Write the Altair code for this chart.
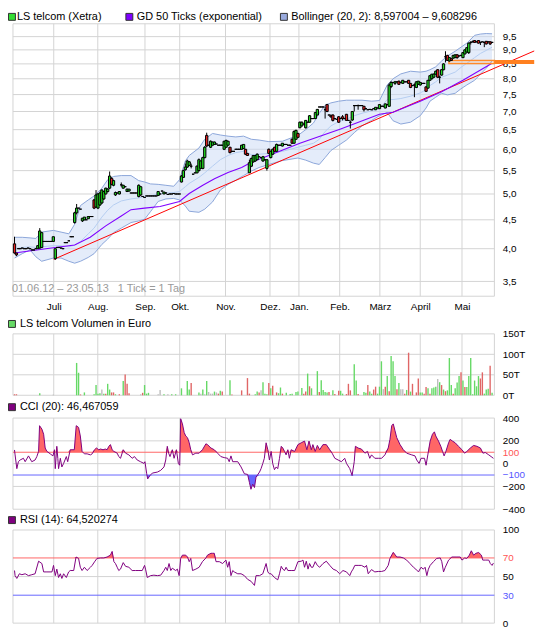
import altair as alt
import pandas as pd

FONT = "Liberation Sans"
GRID = "#d3d3d3"

# ---------------- price candles, trading-day index 0..246 ----------------
p_open = [
    4.08, 3.93, 4.00, 4.00, 4.01, 4.00, 4.00, 4.01, 4.00, 3.98,
    3.98, 4.00, 4.00, 4.01, 4.02, 4.12, 4.12, 4.12, 4.12, 4.12,
    4.12, 3.84, 4.02, 4.02, 4.01, 4.00, 4.10, 4.10, 4.13, 4.20,
    4.20, 4.45, 4.63, 4.72, 4.70, 4.48, 4.50, 4.50, 4.52, 4.56,
    4.56, 4.88, 4.74, 4.72, 4.78, 4.82, 4.90, 5.00, 5.05, 5.12,
    5.33, 5.18, 4.98, 5.02, 5.00, 5.19, 5.12, 5.15, 5.05, 5.06,
    5.02, 5.02, 5.02, 5.02, 4.95, 4.98, 4.95, 4.93, 4.96, 4.96,
    4.96, 4.96, 4.96, 4.96, 4.97, 5.00, 5.06, 5.00, 5.02, 4.99,
    5.00, 5.00, 5.01, 5.00, 5.00, 5.00, 5.25, 5.35, 5.52, 5.58,
    5.62, 5.60, 5.42, 5.45, 5.45, 5.50, 5.55, 5.55, 5.80, 6.35,
    6.10, 6.05, 6.10, 6.12, 6.13, 6.10, 6.10, 6.10, 6.00, 6.05,
    6.10, 6.05, 5.95, 5.95, 6.00, 6.00, 6.00, 6.00, 6.02, 6.00,
    5.90, 5.45, 5.60, 5.70, 5.72, 5.75, 5.82, 5.80, 5.72, 5.75,
    5.55, 6.00, 5.80, 5.88, 6.05, 5.95, 6.10, 6.10, 6.08, 6.12,
    6.12, 6.10, 6.10, 6.25, 6.15, 6.25, 6.40, 6.55, 6.60, 6.65,
    6.55, 6.70, 6.70, 6.80, 6.80, 6.80, 6.90, 7.13, 7.13, 7.13,
    7.05, 7.20, 6.90, 6.88, 6.90, 6.80, 6.78, 6.85, 6.80, 6.85,
    6.80, 6.92, 6.75, 6.70, 6.76, 7.17, 7.17, 7.17, 7.17, 7.17,
    7.15, 7.08, 7.05, 7.06, 7.05, 7.08, 7.05, 7.10, 7.08, 7.15,
    7.15, 7.10, 7.20, 7.15, 7.75, 7.88, 7.85, 7.90, 7.92, 7.88,
    7.85, 7.90, 7.90, 7.95, 7.85, 7.78, 7.80, 7.72, 7.82, 7.80,
    7.85, 7.85, 7.74, 7.70, 7.95, 8.00, 8.05, 8.15, 8.30, 8.05,
    8.12, 8.30, 8.75, 8.80, 8.60, 8.68, 8.70, 8.72, 8.82, 8.78,
    8.80, 8.72, 8.85, 8.92, 8.90, 9.28, 9.30, 9.35, 9.30, 9.35,
    9.28, 9.30, 9.28, 9.32, 9.30, 9.30, 9.28,
]
p_close = [
    3.93, 3.90, 4.00, 4.00, 4.01, 4.00, 4.00, 4.01, 4.00, 3.98,
    3.98, 4.00, 4.05, 4.30, 4.27, 4.12, 4.12, 4.12, 4.12, 4.12,
    4.20, 4.00, 4.02, 4.02, 4.01, 4.00, 4.10, 4.10, 4.13, 4.20,
    4.20, 4.63, 4.72, 4.72, 4.70, 4.53, 4.55, 4.50, 4.56, 4.56,
    4.56, 4.72, 4.98, 5.00, 5.02, 5.08, 5.05, 5.12, 5.10, 5.38,
    5.20, 5.28, 5.03, 5.02, 5.05, 5.19, 5.18, 5.15, 5.10, 5.10,
    5.02, 5.02, 5.02, 5.02, 5.18, 5.15, 4.95, 4.93, 4.96, 4.96,
    4.96, 4.96, 4.96, 4.96, 5.05, 5.00, 5.06, 5.04, 5.02, 4.99,
    5.00, 5.00, 5.01, 5.00, 5.00, 5.00, 5.38, 5.50, 5.58, 5.72,
    5.70, 5.60, 5.42, 5.45, 5.60, 5.75, 5.72, 5.80, 6.05, 6.08,
    6.10, 6.20, 6.18, 6.18, 6.13, 6.10, 6.10, 6.10, 6.20, 6.22,
    6.20, 5.92, 5.95, 5.95, 6.00, 6.00, 6.00, 6.10, 6.12, 5.88,
    5.85, 5.68, 5.78, 5.85, 5.85, 5.88, 5.82, 5.80, 5.82, 5.75,
    5.75, 5.90, 5.95, 6.00, 5.95, 6.12, 6.10, 6.10, 6.15, 6.12,
    6.12, 6.10, 6.10, 6.15, 6.45, 6.48, 6.30, 6.70, 6.70, 6.65,
    6.75, 6.70, 6.88, 6.80, 6.80, 6.97, 7.06, 7.13, 7.13, 7.13,
    7.05, 7.00, 6.90, 6.85, 6.75, 6.80, 6.78, 6.70, 6.80, 6.80,
    6.80, 6.75, 6.75, 6.70, 7.00, 7.17, 7.17, 7.17, 7.17, 7.17,
    7.05, 7.08, 7.05, 7.06, 7.05, 7.08, 7.12, 7.10, 7.20, 7.15,
    7.15, 7.22, 7.20, 7.80, 7.88, 7.88, 7.90, 7.90, 7.82, 7.88,
    7.95, 7.90, 7.90, 7.85, 7.72, 7.78, 7.80, 7.90, 7.92, 7.88,
    7.85, 7.85, 7.60, 7.95, 8.10, 8.15, 8.15, 8.25, 8.05, 8.05,
    8.30, 8.50, 8.75, 8.62, 8.72, 8.62, 8.80, 8.82, 8.72, 8.78,
    8.80, 8.90, 9.00, 9.08, 9.25, 9.28, 9.30, 9.28, 9.30, 9.25,
    9.28, 9.30, 9.28, 9.22, 9.30, 9.22, 9.28,
]
p_high = [
    4.20, 3.93, 4.00, 4.00, 4.01, 4.00, 4.00, 4.01, 4.00, 3.98,
    3.98, 4.00, 4.05, 4.35, 4.28, 4.12, 4.12, 4.12, 4.12, 4.12,
    4.20, 4.00, 4.02, 4.02, 4.01, 4.00, 4.10, 4.10, 4.13, 4.20,
    4.20, 4.65, 4.80, 4.72, 4.70, 4.53, 4.55, 4.50, 4.57, 4.56,
    4.56, 4.90, 5.08, 5.02, 5.05, 5.10, 5.06, 5.13, 5.12, 5.48,
    5.35, 5.30, 5.05, 5.02, 5.06, 5.24, 5.19, 5.15, 5.11, 5.10,
    5.02, 5.02, 5.02, 5.02, 5.20, 5.16, 4.95, 4.93, 4.96, 4.96,
    4.96, 4.96, 4.96, 4.96, 5.05, 5.00, 5.06, 5.04, 5.02, 4.99,
    5.00, 5.00, 5.01, 5.00, 5.00, 5.00, 5.40, 5.52, 5.66, 5.75,
    5.72, 5.66, 5.42, 5.45, 5.62, 5.78, 5.73, 5.82, 6.08, 6.42,
    6.10, 6.22, 6.19, 6.19, 6.13, 6.10, 6.10, 6.10, 6.21, 6.24,
    6.21, 6.06, 5.95, 5.95, 6.00, 6.00, 6.00, 6.11, 6.13, 6.01,
    5.91, 5.75, 5.80, 5.86, 5.86, 5.90, 5.82, 5.80, 5.84, 5.75,
    5.76, 6.02, 5.96, 6.02, 6.06, 6.14, 6.10, 6.10, 6.15, 6.12,
    6.12, 6.10, 6.10, 6.27, 6.48, 6.50, 6.42, 6.72, 6.72, 6.65,
    6.76, 6.70, 6.90, 6.80, 6.80, 6.98, 7.07, 7.13, 7.13, 7.13,
    7.13, 7.22, 6.90, 6.92, 6.92, 6.80, 6.78, 6.87, 6.80, 6.90,
    6.80, 6.93, 6.75, 6.75, 7.01, 7.18, 7.17, 7.20, 7.17, 7.17,
    7.16, 7.08, 7.05, 7.06, 7.05, 7.08, 7.13, 7.10, 7.21, 7.15,
    7.15, 7.23, 7.20, 7.85, 7.92, 7.88, 7.93, 7.90, 7.94, 7.88,
    7.96, 7.90, 7.90, 7.96, 7.86, 7.78, 7.85, 7.92, 7.93, 7.90,
    7.85, 7.85, 7.75, 7.96, 8.12, 8.16, 8.18, 8.27, 8.32, 8.10,
    8.32, 8.52, 8.95, 8.82, 8.74, 8.70, 8.82, 8.83, 8.84, 8.78,
    8.80, 8.92, 9.02, 9.10, 9.28, 9.32, 9.35, 9.36, 9.30, 9.36,
    9.30, 9.30, 9.30, 9.33, 9.30, 9.32, 9.28,
]
p_low = [
    3.92, 3.88, 4.00, 4.00, 4.01, 4.00, 4.00, 4.01, 4.00, 3.98,
    3.98, 4.00, 4.00, 4.00, 4.01, 4.12, 4.12, 4.12, 4.12, 4.12,
    4.12, 3.82, 4.02, 4.02, 4.01, 4.00, 4.10, 4.10, 4.13, 4.20,
    4.20, 4.43, 4.60, 4.72, 4.70, 4.46, 4.49, 4.50, 4.52, 4.56,
    4.56, 4.70, 4.72, 4.70, 4.76, 4.80, 4.88, 4.99, 5.03, 5.10,
    5.18, 5.16, 4.96, 5.02, 4.99, 5.15, 5.11, 5.15, 5.04, 5.05,
    5.02, 5.02, 5.02, 5.02, 4.93, 4.96, 4.95, 4.93, 4.96, 4.96,
    4.96, 4.96, 4.96, 4.96, 4.97, 5.00, 5.06, 5.00, 5.02, 4.99,
    5.00, 5.00, 5.01, 5.00, 5.00, 5.00, 5.24, 5.34, 5.50, 5.56,
    5.60, 5.55, 5.42, 5.45, 5.44, 5.48, 5.54, 5.53, 5.78, 6.05,
    6.10, 6.03, 6.09, 6.11, 6.13, 6.10, 6.10, 6.10, 5.98, 6.04,
    6.09, 5.90, 5.95, 5.95, 6.00, 6.00, 6.00, 5.99, 6.01, 5.86,
    5.84, 5.45, 5.58, 5.68, 5.70, 5.74, 5.82, 5.80, 5.70, 5.75,
    5.50, 5.88, 5.78, 5.86, 5.93, 5.94, 6.10, 6.10, 6.07, 6.12,
    6.12, 6.10, 6.10, 6.13, 6.14, 6.24, 6.28, 6.54, 6.58, 6.65,
    6.53, 6.70, 6.69, 6.80, 6.80, 6.79, 6.89, 7.13, 7.13, 7.13,
    6.80, 6.98, 6.90, 6.82, 6.72, 6.80, 6.78, 6.68, 6.80, 6.75,
    6.80, 6.74, 6.75, 6.53, 6.74, 7.00, 7.17, 7.05, 7.17, 7.17,
    7.00, 7.08, 7.05, 7.06, 7.05, 7.08, 7.04, 7.10, 7.07, 7.15,
    7.15, 7.09, 7.20, 7.14, 7.70, 7.88, 7.80, 7.90, 7.80, 7.88,
    7.84, 7.90, 7.90, 7.84, 7.70, 7.78, 7.42, 7.70, 7.80, 7.78,
    7.85, 7.85, 7.58, 7.68, 7.94, 7.98, 8.03, 8.14, 8.02, 7.85,
    8.10, 8.28, 8.55, 8.60, 8.58, 8.60, 8.68, 8.70, 8.68, 8.78,
    8.80, 8.70, 8.84, 8.90, 8.85, 9.20, 9.28, 9.26, 9.30, 9.24,
    9.18, 9.30, 9.10, 9.20, 9.30, 9.18, 9.28,
]

# ---------------- Bollinger (20, 2) ----------------
bb_day = [0, 4, 8, 11, 14, 20, 24, 28, 31, 34, 38, 41, 45, 48, 51, 55, 60, 64, 67, 70,
          74, 78, 82, 85, 88, 90, 95, 98, 102, 106, 110, 114, 118, 122, 126, 131, 138, 146, 150, 154,
          157, 160, 163, 167, 171, 175, 179, 184, 188, 192, 195, 199, 204, 209, 212, 214, 217, 220, 223, 227,
          230, 233, 237, 240, 243, 246]
bb_upper = [4.19, 4.19, 4.18, 4.17, 4.28, 4.31, 4.28, 4.25, 4.42, 4.77, 4.88, 4.96, 5.12, 5.30, 5.37, 5.39, 5.39, 5.28, 5.25, 5.21,
            5.20, 5.18, 5.16, 5.30, 5.72, 5.85, 6.03, 6.25, 6.40, 6.36, 6.33, 6.31, 6.33, 6.25, 6.23, 6.19, 6.20, 6.35, 6.50, 6.68,
            6.95, 7.18, 7.25, 7.30, 7.33, 7.33, 7.33, 7.30, 7.32, 7.80, 8.00, 8.16, 8.25, 8.22, 8.25, 8.30, 8.40, 8.60, 8.78, 8.95,
            9.10, 9.25, 9.55, 9.60, 9.62, 9.61]
bb_mid = [4.00, 4.02, 4.03, 4.02, 4.03, 4.05, 4.05, 4.03, 4.06, 4.12, 4.25, 4.35, 4.55, 4.68, 4.78, 4.86, 4.90, 4.92, 4.95, 4.96,
          5.00, 5.02, 5.03, 5.05, 5.15, 5.22, 5.35, 5.45, 5.60, 5.75, 5.85, 5.92, 5.95, 5.87, 5.88, 5.90, 5.95, 6.05, 6.10, 6.15,
          6.25, 6.45, 6.60, 6.72, 6.78, 6.88, 6.95, 7.02, 7.08, 7.35, 7.35, 7.38, 7.45, 7.55, 7.65, 7.78, 7.90, 8.05, 8.12, 8.22,
          8.38, 8.52, 8.72, 8.87, 8.98, 9.10]
bb_lower = [3.85, 3.92, 3.98, 3.87, 3.80, 3.85, 3.85, 3.80, 3.77, 3.80, 3.86, 3.92, 4.07, 4.16, 4.27, 4.35, 4.45, 4.48, 4.51, 4.65,
            4.85, 4.90, 4.91, 4.88, 4.76, 4.66, 4.64, 4.70, 4.84, 5.08, 5.20, 5.29, 5.39, 5.49, 5.57, 5.64, 5.73, 5.79, 5.74, 5.67,
            5.64, 5.80, 5.97, 6.10, 6.23, 6.42, 6.60, 6.75, 6.88, 6.97, 6.74, 6.65, 6.70, 6.88, 7.10, 7.30, 7.42, 7.54, 7.49, 7.54,
            7.68, 7.80, 7.95, 8.15, 8.35, 8.60]

# ---------------- GD 50 (exponential) ----------------
gd_day = [0, 19, 31, 39, 47, 55, 60, 67, 75, 85, 90, 97, 103, 110, 117, 122, 132, 147, 168, 188, 195, 209, 220, 231, 246]
gd_val = [3.93, 4.01, 4.06, 4.19, 4.39, 4.57, 4.69, 4.72, 4.75, 4.85, 5.01, 5.18, 5.32, 5.46, 5.57, 5.69, 5.87, 6.15, 6.52,
          6.92, 6.98, 7.30, 7.59, 7.95, 8.52]

# red trend line (drawn past the right edge) and orange marker
trend_day = [20.2, 267.7]
trend_val = [3.83, 8.96]
box_day = [223.8, 247.2]
box_val = [8.51, 8.62]
tab_day = [247.2, 267.7]
tab_val = [8.50, 8.64]

# ---------------- volume (T EUR) ----------------
vol_day = [0, 1, 13, 20, 32, 33, 34, 36, 41, 42, 43, 44, 45, 46, 47, 48, 49, 50, 51, 52, 54, 56, 57, 58, 59,
           65, 66, 67, 68, 69, 74, 75, 77, 79, 81, 83, 86, 89, 90, 91, 95, 96, 97, 98, 99, 100, 101, 102, 103, 104,
           105, 106, 107, 111, 112, 117, 120, 121, 124, 125, 126, 127, 128, 129, 130, 131, 132, 133, 135, 136, 137, 138,
           140, 142, 143, 145, 146, 148, 149, 150, 151, 152, 153, 156, 157, 158, 159, 160, 161, 162, 164, 165, 167, 168,
           169, 171, 172, 173, 175, 176, 177, 180, 181, 182, 183, 184, 185, 186, 187, 188, 189, 190, 191, 192, 193, 194,
           195, 196, 197, 198, 199, 200, 201, 202, 203, 204, 205, 207, 208, 209, 210, 211, 212, 213, 214, 215, 216, 217,
           218, 219, 220, 221, 222, 223, 224, 225, 226, 227, 228, 229, 230, 231, 232, 233, 234, 235, 236, 237, 238, 239,
           240, 241, 242, 243, 244, 245, 246]
vol_val = [2.5, 2.5, 5, 1.7, 79, 55, 2, 7, 2.5, 25, 4, 5, 14, 4, 4, 28, 14, 7, 7, 2.5, 2.5, 35, 51, 28, 5,
           2.5, 6, 25, 4, 6, 2.5, 13, 2.5, 2.5, 2.5, 2.5, 17, 35, 14, 30, 7, 4, 14, 2.5, 35, 8, 4, 4, 9, 7,
           4, 11, 9, 37, 1.7, 12, 42, 4, 2.5, 9, 7, 12, 32, 4, 2.5, 30, 17, 23, 7, 5, 19, 4,
           6, 3, 4, 8, 9, 18, 4, 9, 53, 22, 17, 59, 8, 37, 13, 8, 7, 8, 12, 3, 11, 11,
           4, 3, 28, 12, 76, 36, 3, 8, 6, 25, 9, 4, 14, 21, 4, 21, 83, 15, 21, 47, 10, 96,
           83, 47, 15, 30, 15, 15, 4, 13, 104, 9, 28, 7, 41, 7, 7, 4, 20, 17, 4, 17, 19, 21,
           40, 32, 25, 14, 10, 12, 91, 25, 4, 17, 31, 47, 56, 36, 20, 20, 47, 91, 2.5, 36, 22, 47,
           41, 56, 4, 14, 16, 72, 6]
vol_dir = ["r", "r", "g", "n", "g", "g", "r", "g", "g", "g", "g", "g", "n", "g", "r", "g", "g", "r", "r", "g", "r", "g", "r", "r", "r",
           "n", "r", "g", "g", "g", "n", "n", "g", "n", "g", "g", "g", "g", "g", "r", "g", "n", "g", "n", "g", "n", "n", "n", "g", "n",
           "r", "g", "r", "g", "r", "r", "r", "r", "g", "g", "r", "n", "g", "g", "g", "r", "g", "r", "r", "g", "g", "r",
           "g", "g", "g", "g", "g", "g", "r", "r", "g", "r", "g", "g", "r", "g", "g", "g", "g", "r", "g", "r", "r", "g",
           "g", "r", "r", "r", "g", "g", "r", "g", "g", "r", "g", "g", "r", "r", "g", "g", "g", "n", "r", "g", "r", "g",
           "g", "g", "r", "g", "n", "n", "r", "g", "r", "g", "r", "r", "r", "g", "g", "r", "r", "g", "r", "g", "g", "g",
           "n", "g", "r", "g", "r", "g", "g", "g", "r", "g", "g", "g", "r", "g", "r", "g", "g", "g", "g", "g", "g", "g",
           "r", "r", "g", "g", "g", "r", "g"]

# ---------------- CCI (20) ----------------
cci_pts = [
    (0, 120), (0.3, 77), (1.2, -44), (2, 17), (2.9, 32), (4.6, 47), (5.5, 17), (7.2, 68), (8.9, 17), (10.6, 32),
    (11.5, 62), (12.4, 107), (12.9, 333), (14.1, 303), (15, 258), (15.8, 137), (16.7, 107), (18.4, 86), (19.8, 68),
    (20.6, 122), (21, -44), (21.8, 152), (22.3, 47), (22.7, -44), (23.6, 47), (24.4, -29), (25.3, 2), (26.7, 62),
    (27.4, 17), (28.7, 122), (29.6, 122), (30.8, 122), (31.8, 333), (33, 318), (33.9, 243), (34.8, 107), (36, 86),
    (37.4, 86), (39.1, 77), (40, 86), (41.2, 122), (42.2, 137), (43.4, 122), (44.3, 128), (45.6, 122), (46.8, 128),
    (47.7, 122), (48.6, 152), (49.4, 167), (50.3, 122), (51.2, 107), (52.9, 92), (53.7, 62), (54.6, 47), (56, 122),
    (57.2, 92), (58.9, 77), (60.6, 47), (61.8, 62), (63.2, 32), (64.9, 17), (66.7, 2), (67.2, 17), (68.1, -89),
    (68.6, -134), (69.8, -104), (71, -83), (73.6, -74), (75.3, -59), (77, -29), (77.9, 32), (78.7, 152), (79.4, 92),
    (80.1, 62), (81.3, 122), (82.2, 47), (83.4, 122), (84.4, 2), (85.1, -14), (85.6, 394), (86.5, 349), (87.4, 273),
    (88.2, 243), (89.1, 228), (90, 183), (90.8, 122), (91.7, 77), (93.4, 92), (95.1, 92), (96.8, 122), (98.6, 174),
    (99.4, 167), (101.2, 137), (102.9, 122), (104.6, 92), (106.3, 62), (108, 53), (109.8, 47), (110.6, 17),
    (111.5, 68), (112.4, 17), (115, 17), (116.7, -29), (118.4, -89), (120.1, -95), (121, -165), (121.8, -225),
    (122.7, -180), (123.6, -210), (124.4, -119), (126.2, -74), (127, -44), (127.9, 2), (128.7, 47), (129.6, 183),
    (130.5, 122), (131.3, 32), (132.2, 107), (133, 2), (133.9, -53), (134.8, -29), (135.6, -44), (136.5, 47),
    (137.4, 152), (138.2, 137), (139.1, 107), (139.9, 77), (140.8, 122), (141.6, 47), (142.5, 122), (144.3, 107),
    (146, 167), (147.7, 183), (149.4, 198), (150.6, 122), (151.7, 198), (152.9, 122), (153.7, 167), (154.9, 107),
    (156, 160), (157.2, 122), (158.9, 167), (160.6, 167), (162.4, 122), (163.6, 92), (165, 47), (166.7, 32),
    (168.4, 17), (170.1, 47), (171, 2), (172.7, -44), (173.9, -104), (175, 17), (175.6, 152), (177, 137),
    (178.7, 128), (180.5, 92), (181.8, 107), (183, 47), (183.9, 77), (185.6, 47), (187.4, 47), (189.1, 47),
    (190.8, 77), (192.5, 137), (193.4, 213), (194.3, 333), (195.1, 349), (196, 288), (196.9, 228), (198.6, 167),
    (200.3, 122), (202, 92), (204.6, 77), (206.3, 68), (207.2, 32), (208.4, 2), (209.4, 47), (211.2, 47), (212, -14),
    (212.9, 77), (214.1, 198), (215.3, 258), (216.3, 279), (217, 243), (218.4, 198), (219.6, 152), (220.5, 107),
    (221.3, 68), (222.2, 107), (223.6, 183), (224.4, 213), (225.6, 198), (227, 183), (228.7, 152), (230.5, 122),
    (231.8, 92), (233, 107), (234.8, 137), (236.5, 160), (238.2, 152), (240, 137), (241.3, 92), (242.5, 98),
    (244.3, 77), (245.5, 62), (246.7, 46.5),
]
cci_day = [p[0] for p in cci_pts]
cci_val = [p[1] for p in cci_pts]

# ---------------- RSI (14) ----------------
rsi_pts = [
    (0, 56.5), (0.3, 51), (1.2, 48), (2.5, 53), (3.8, 52), (5.5, 53), (7.2, 51), (8.9, 52), (10.6, 53), (12.4, 66.5),
    (14.1, 64), (15, 55), (16.7, 55), (19.3, 55), (20.1, 62), (21, 51), (21.8, 58), (22.7, 49), (23.6, 53), (24.4, 48),
    (25.3, 53), (26.7, 49), (27.9, 55), (28.7, 56.5), (30.5, 56.5), (31.7, 71), (33, 69.5), (33.9, 60), (34.8, 56.5),
    (36, 60), (37.4, 56.5), (39.1, 60), (40, 62), (41.2, 65.8), (42.5, 69.5), (44.3, 70), (46, 70), (47.7, 71),
    (49.4, 73), (50.3, 77), (51.2, 66), (52, 64), (52.9, 60), (53.7, 56.5), (54.6, 58), (56, 65), (57.2, 61),
    (58.9, 60), (60.6, 56.5), (62.4, 56.5), (64.1, 56.5), (65.8, 56.5), (67, 62), (67.5, 58), (68.4, 49), (70.1, 51),
    (71.8, 51.5), (73.6, 51), (75.3, 51.5), (77, 56.5), (77.9, 60), (78.7, 56.5), (79.6, 64), (80.5, 56.5),
    (81.3, 59), (83, 56.5), (83.9, 58), (84.8, 51), (85.6, 69.5), (86.5, 73), (88.2, 73), (89.1, 71), (90, 66),
    (90.8, 69.5), (91.7, 56.5), (93.4, 58), (95.1, 60), (96.8, 66), (98.6, 70), (99.4, 73), (101.2, 75), (102, 75),
    (102.9, 75), (103.8, 66), (105.5, 66), (107.2, 64), (108.9, 67.7), (109.8, 60), (110.6, 66), (111.5, 51),
    (112.4, 56.5), (113.2, 55), (115, 53), (116.7, 53), (118.4, 51), (120.1, 47), (121.8, 45), (123.6, 40.5),
    (124.4, 51), (126.2, 51), (127.9, 53), (129.6, 64), (130.5, 55), (131.3, 53), (132.2, 53), (133.9, 49),
    (135.6, 46.5), (136.5, 53), (137.4, 61), (138.2, 58), (139.1, 56.5), (139.9, 60), (140.8, 56.5), (142.5, 56.5),
    (144.3, 56.5), (146, 66), (147.7, 66.5), (148.6, 67.7), (149.4, 60), (150.3, 66.5), (151.2, 58), (152, 64),
    (152.9, 60), (153.7, 60), (154.9, 66), (156, 62), (157.2, 60), (158.9, 64), (160.6, 66.5), (162.4, 62),
    (164.1, 58), (165.8, 56.5), (167.5, 53), (169.2, 56.5), (171, 55), (172.7, 51), (173.5, 55), (174.4, 58),
    (175.3, 62), (177, 62), (178.7, 62), (180.5, 60), (181.3, 62), (182.2, 53), (183.9, 57.5), (185.6, 55),
    (187.4, 55.5), (189.1, 55.5), (190.8, 56.5), (192.5, 62), (193.4, 69.5), (195.1, 76), (196.9, 71), (198.6, 71),
    (200.3, 70), (202, 67.7), (203.7, 64), (205.5, 60), (206.7, 58), (208.1, 55), (209.4, 60), (210.6, 58),
    (211.5, 60), (212.4, 51), (213.2, 58), (214.1, 62), (215.8, 66), (217.5, 69.5), (219.3, 70), (220.1, 66),
    (221, 55), (221.9, 60), (223.6, 67.7), (225.3, 71), (227.9, 71), (229.6, 71), (230.5, 67.7), (231.9, 70),
    (233, 69.5), (234.3, 73), (235.3, 77.7), (236.5, 73), (237.7, 75), (239.1, 75.8), (240.5, 73), (241.2, 67.7),
    (242.5, 67.7), (244.3, 67.7), (245.1, 64), (246, 62), (246.7, 64.5),
]
rsi_day = [p[0] for p in rsi_pts]
rsi_val = [p[1] for p in rsi_pts]

# ---------------- axis labels ----------------
month_pos = [20.2, 42.9, 67.2, 85.1, 108.7, 131.6, 146.5, 167.5, 188.2, 209.0, 230.5]
month_names = ["Juli", "Aug.", "Sep.", "Okt.", "Nov.", "Dez.", "Jan.", "Feb.", "März", "April", "Mai"]
price_ticks = [3.5, 4.0, 4.5, 5.0, 5.5, 6.0, 6.5, 7.0, 7.5, 8.0, 8.5, 9.0, 9.5]
vol_ticks = [0, 50, 100, 150]
cci_ticks = [-400, -200, -100, 0, 100, 200, 400]
rsi_ticks = [0, 30, 50, 70, 100]
price_grid = price_ticks
vol_grid = [50, 100]
cci_grid = [-200, 0, 200]
rsi_grid = [50]

# ---------------- layout (pixels inside plot area) ----------------
W, H = 496, 605
XD = [-0.8, 247.2]
P_DOM, P_RANGE = [3.295, 10.01], [275, 0]
V_DOM, V_RANGE = [0, 150], [375, 313]
C_DOM, C_RANGE = [-400, 400], [490, 398]
R_DOM, R_RANGE = [0, 100], [605, 511]

xsc = alt.Scale(domain=XD, nice=False, zero=False)
names_js = "[" + ",".join("'%s'" % n for n in month_names) + "]"
pos_js = "[" + ",".join(str(p) for p in month_pos) + "]"
x_axis = alt.Axis(values=month_pos, labelExpr="%s[indexof(%s, datum.value)]" % (names_js, pos_js),
                  grid=False, ticks=False, domain=False, labelPadding=5, offset=-(H - P_RANGE[0]),
                  orient="bottom", title=None, labelFont=FONT, labelFontSize=10, labelColor="#000",
                  labelOverlap=False, labelFlush=False)


def X(f):
    return alt.X(f, type="quantitative", scale=xsc, axis=x_axis)


def yaxis(values, expr=None, color=None):
    kw = dict(orient="right", values=values, grid=False, ticks=False, domain=False,
              labelPadding=3, title=None, labelFont=FONT, labelFontSize=10, labelOverlap=False,
              labelFlush=False, labelColor="#000")
    if expr:
        kw["labelExpr"] = expr
    if color:
        kw["labelColor"] = color
    return alt.Axis(**kw)


def panel_base(dom, ysc, ax, grid_vals):
    frame = alt.Chart(pd.DataFrame({"x0": [XD[0]], "x1": [XD[1]], "y0": [dom[0]], "y1": [dom[1]]})).mark_rect(
        fillOpacity=0, stroke=GRID, strokeWidth=1).encode(
        x=X("x0"), x2="x1", y=alt.Y("y0:Q", scale=ysc, axis=ax), y2="y1")
    hgrid = alt.Chart(pd.DataFrame({"g": grid_vals, "x0": [XD[0]] * len(grid_vals),
                                    "x1": [XD[1]] * len(grid_vals)})).mark_rule(
        color=GRID, strokeWidth=1).encode(x=X("x0"), x2="x1", y=alt.Y("g:Q", scale=ysc, axis=ax))
    months = alt.Chart(pd.DataFrame({"m": month_pos, "lo": [dom[0]] * len(month_pos),
                                     "hi": [dom[1]] * len(month_pos)})).mark_rule(
        color=GRID, strokeWidth=1).encode(x=X("m"), y=alt.Y("lo:Q", scale=ysc, axis=ax), y2="hi")
    return [frame, hgrid, months]


# ---------------- main price panel ----------------
psc = alt.Scale(type="log", domain=P_DOM, range=P_RANGE, nice=False, zero=False)
pax = yaxis(price_ticks, expr="replace(format(datum.value, '.1f'), '.', ',')")

cand = pd.DataFrame({"d": list(range(len(p_close))), "o": p_open, "c": p_close, "h": p_high, "l": p_low})
cand["col"] = ["#22dd22" if c > o else ("#ee2222" if c < o else "#000000") for o, c in zip(p_open, p_close)]
bb = pd.DataFrame({"d": bb_day, "u": bb_upper, "m": bb_mid, "lo": bb_lower})
gd = pd.DataFrame({"d": gd_day, "v": gd_val})
tr = pd.DataFrame({"d": trend_day, "v": trend_val})

main_layers = panel_base(P_DOM, psc, pax, price_grid) + [
    alt.Chart(bb).mark_area(color="#c9daf6", opacity=0.5).encode(
        x=X("d"), y=alt.Y("u:Q", scale=psc, axis=pax), y2="lo"),
    alt.Chart(bb).mark_line(color="#b5cdf1", strokeWidth=1).encode(x=X("d"), y=alt.Y("m:Q", scale=psc, axis=pax)),
    alt.Chart(bb).mark_line(color="#8ca6da", strokeWidth=1).encode(x=X("d"), y=alt.Y("u:Q", scale=psc, axis=pax)),
    alt.Chart(bb).mark_line(color="#8ca6da", strokeWidth=1).encode(x=X("d"), y=alt.Y("lo:Q", scale=psc, axis=pax)),
    alt.Chart(tr).mark_line(color="#ff0000", strokeWidth=1, clip=False).encode(
        x=X("d"), y=alt.Y("v:Q", scale=psc, axis=pax)),
    alt.Chart(gd).mark_line(color="#8000ff", strokeWidth=1.1).encode(x=X("d"), y=alt.Y("v:Q", scale=psc, axis=pax)),
    alt.Chart(pd.DataFrame({"x0": [box_day[0]], "x1": [box_day[1]], "y0": [box_val[0]], "y1": [box_val[1]]})).mark_rect(
        fillOpacity=0, stroke="#ff8a2a", strokeWidth=1.5).encode(
        x=X("x0"), x2="x1", y=alt.Y("y0:Q", scale=psc, axis=pax), y2="y1"),
    alt.Chart(cand).mark_rule(color="#000", strokeWidth=1).encode(
        x=X("d"), y=alt.Y("l:Q", scale=psc, axis=pax), y2="h"),
    alt.Chart(cand).mark_bar(size=2.3, stroke="#000", strokeWidth=1).encode(
        x=X("d"), y=alt.Y("o:Q", scale=psc, axis=pax), y2="c", color=alt.Color("col:N", scale=None)),
    alt.Chart(pd.DataFrame({"x0": [tab_day[0]], "x1": [tab_day[1]], "y0": [tab_val[0]], "y1": [tab_val[1]]})).mark_rect(
        color="#ff8020", clip=False).encode(
        x=X("x0"), x2="x1", y=alt.Y("y0:Q", scale=psc, axis=pax), y2="y1"),
]
main = alt.layer(*main_layers)

# ---------------- volume panel ----------------
vsc = alt.Scale(domain=V_DOM, range=V_RANGE, nice=False, zero=False)
vax = yaxis(vol_ticks, expr="datum.value + 'T'")
vdf = pd.DataFrame({"d": vol_day, "v": vol_val})
vdf["col"] = [{"g": "#66d966", "r": "#e06666", "n": "#bdbdbd"}[k] for k in vol_dir]
vdf["z"] = 0
vol = alt.layer(*(panel_base(V_DOM, vsc, vax, vol_grid) + [
    alt.Chart(vdf).mark_bar(size=1.4).encode(x=X("d"), y=alt.Y("z:Q", scale=vsc, axis=vax), y2="v",
                                             color=alt.Color("col:N", scale=None)),
]))

# ---------------- CCI panel ----------------
csc = alt.Scale(domain=C_DOM, range=C_RANGE, nice=False, zero=False)
cax = yaxis(cci_ticks, color={"condition": [{"test": "datum.value === 100", "value": "#ff5555"},
                                            {"test": "datum.value === -100", "value": "#5555ff"}],
                              "value": "#000000"})
cdf = pd.DataFrame({"d": cci_day, "v": cci_val})
cdf["up"] = cdf["v"].clip(lower=100)
cdf["dn"] = cdf["v"].clip(upper=-100)
cdf["b_up"] = 100
cdf["b_dn"] = -100
thr = pd.DataFrame({"x0": [XD[0]], "x1": [XD[1]]})
cci = alt.layer(*(panel_base(C_DOM, csc, cax, cci_grid) + [
    alt.Chart(cdf).mark_area(color="#ff6666").encode(x=X("d"), y=alt.Y("up:Q", scale=csc, axis=cax), y2="b_up"),
    alt.Chart(cdf).mark_area(color="#6666ff").encode(x=X("d"), y=alt.Y("dn:Q", scale=csc, axis=cax), y2="b_dn"),
    alt.Chart(thr.assign(v=100)).mark_rule(color="#ff6666", strokeWidth=1).encode(
        x=X("x0"), x2="x1", y=alt.Y("v:Q", scale=csc, axis=cax)),
    alt.Chart(thr.assign(v=-100)).mark_rule(color="#6666ff", strokeWidth=1).encode(
        x=X("x0"), x2="x1", y=alt.Y("v:Q", scale=csc, axis=cax)),
    alt.Chart(cdf).mark_line(color="#800080", strokeWidth=1).encode(x=X("d"), y=alt.Y("v:Q", scale=csc, axis=cax)),
]))

# ---------------- RSI panel ----------------
rsc = alt.Scale(domain=R_DOM, range=R_RANGE, nice=False, zero=False)
rax = yaxis(rsi_ticks, color={"condition": [{"test": "datum.value === 70", "value": "#ff5555"},
                                            {"test": "datum.value === 30", "value": "#5555ff"}],
                              "value": "#000000"})
rdf = pd.DataFrame({"d": rsi_day, "v": rsi_val})
rdf["up"] = rdf["v"].clip(lower=70)
rdf["b"] = 70
rsi = alt.layer(*(panel_base(R_DOM, rsc, rax, rsi_grid) + [
    alt.Chart(rdf).mark_area(color="#ff6666").encode(x=X("d"), y=alt.Y("up:Q", scale=rsc, axis=rax), y2="b"),
    alt.Chart(thr.assign(v=70)).mark_rule(color="#ff6666", strokeWidth=1).encode(
        x=X("x0"), x2="x1", y=alt.Y("v:Q", scale=rsc, axis=rax)),
    alt.Chart(thr.assign(v=30)).mark_rule(color="#6666ff", strokeWidth=1).encode(
        x=X("x0"), x2="x1", y=alt.Y("v:Q", scale=rsc, axis=rax)),
    alt.Chart(rdf).mark_line(color="#800080", strokeWidth=1).encode(x=X("d"), y=alt.Y("v:Q", scale=rsc, axis=rax)),
]))

# ---------------- legend texts ----------------
one = pd.DataFrame({"a": [0]})


def label(txt, x, y, color="#000", size=11):
    return alt.Chart(one).mark_text(text=txt, align="left", baseline="middle", font=FONT, fontSize=size,
                                    color=color).encode(x=alt.value(x), y=alt.value(y))


def square(x, y, fill):
    return alt.Chart(one).mark_rect(color=fill, stroke="#333", strokeWidth=1).encode(
        x=alt.value(x), x2=alt.value(x + 7), y=alt.value(y - 3.5), y2=alt.value(y + 3.5))


texts = [
    square(0.5, -7, "#33dd33"), label("LS telcom (Xetra)", 9, -7),
    square(119, -7, "#7f00ff"), label("GD 50 Ticks (exponential)", 130, -7),
    square(275, -7, "#99aadd"), label("Bollinger (20, 2): 8,597004 \u2013 9,608296", 286, -7),
    label("01.06.12 \u2013 23.05.13\u00a0\u00a0\u00a01 Tick = 1 Tag", 4, 268, color="#9a9a9a"),
    square(0.5, 303, "#66d966"), label("LS telcom Volumen in Euro", 12, 303),
    square(0.5, 387, "#800080"), label("CCI (20): 46,467059", 12, 387),
    square(0.5, 501, "#800080"), label("RSI (14): 64,520274", 12, 501),
]

chart = alt.layer(main, vol, cci, rsi, *texts).resolve_scale(y="independent").resolve_axis(
    y="independent").properties(width=W, height=H, padding=0, background="white").configure_view(strokeWidth=0)

chart.save("out.html", embed_options={"renderer": "svg", "actions": False})
